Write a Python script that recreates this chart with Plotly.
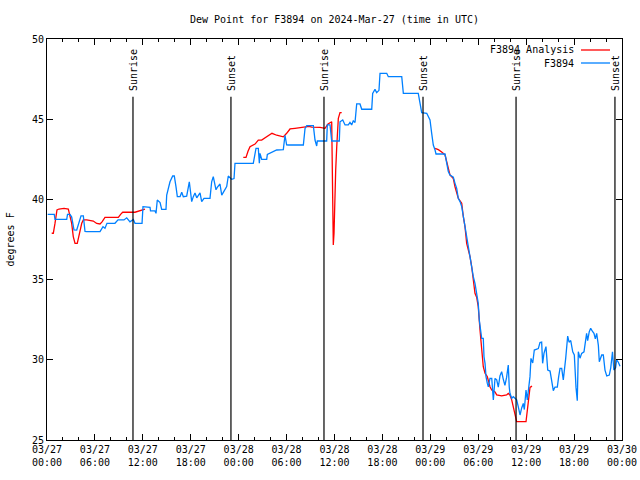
import pandas as pd
import plotly.graph_objects as go

# Hours since 2024-03-27 00:00 UTC, and dew point (deg F)
obs_hours = [0.09, 0.91, 1.0, 2.47, 2.57, 2.88, 3.09, 3.38, 3.72, 3.94, 4.26, 4.55, 4.76, 4.97, 5.76, 6.64,
             7.01, 7.26, 7.51, 8.51, 8.89, 9.64, 9.98, 10.39, 10.81, 11.02, 11.9, 12.02, 12.9, 12.96, 13.52,
             13.65, 13.81, 14.16, 14.36, 14.9, 14.99, 15.4, 15.74, 15.94, 16.15, 16.32, 16.66, 16.87, 17.07,
             17.49, 17.82, 18.12, 18.32, 18.53, 18.75, 19.16, 19.37, 19.66, 20.41, 20.62, 20.82, 21.16, 21.32,
             21.66, 21.88, 22.29, 22.5, 22.7, 23.13, 23.42, 23.54, 25.83, 26.04, 26.17, 26.46, 26.59, 26.67,
             26.88, 27.51, 27.59, 28.76, 29.59, 29.8, 30.01, 30.22, 32.1, 32.31, 32.52, 33.35, 33.56, 33.77,
             33.85, 35.02, 35.1, 35.44, 35.65, 36.6, 36.69, 37.03, 37.32, 37.73, 37.94, 38.15, 38.35, 38.57,
             38.78, 39.19, 39.41, 40.66, 40.78, 41.07, 41.28, 41.57, 41.7, 42.54, 42.74, 44.42, 44.62, 46.49,
             46.71, 46.92, 47.55, 47.96, 48.17, 48.37, 48.59, 48.71, 49.84, 49.96, 50.05, 50.25, 50.46, 50.88,
             51.09, 51.3, 51.5, 51.72, 51.93, 52.13, 52.34, 52.55, 52.75, 52.97, 53.18, 53.38, 53.59, 53.8,
             54.0, 54.13, 54.31, 54.43, 54.63, 54.72, 54.85, 54.97, 55.13, 55.26, 55.47, 55.69, 55.89, 56.1,
             56.31, 56.51, 56.72, 56.93, 57.13, 57.34, 57.55, 57.76, 57.88, 57.97, 58.19, 58.39, 58.6, 58.81,
             59.01, 59.23, 59.44, 59.64, 59.77, 59.98, 60.14, 60.35, 60.48, 60.6, 60.82, 61.02, 61.23, 61.52,
             61.73, 61.94, 62.06, 62.23, 62.48, 62.7, 62.99, 63.2, 63.4, 63.61, 63.9, 64.07, 64.24, 64.45,
             64.65, 64.95, 65.2, 65.37, 65.58, 65.83, 66.03, 66.24, 66.4, 66.53, 66.74, 66.95, 67.24, 67.57,
             67.7, 67.9, 68.08, 68.33, 68.49, 68.66, 68.83, 69.04, 69.16, 69.46, 69.66, 69.87, 70.09, 70.41,
             70.59, 70.81, 70.98, 71.2, 71.33, 71.54, 71.75]
obs_values = [39.07, 39.07, 38.76, 38.76, 39.07, 39.07, 38.9, 38.1, 38.09, 38.4, 38.97, 38.97, 38.0, 37.99, 37.97, 37.99,
              38.3, 38.2, 38.51, 38.51, 38.72, 38.72, 38.85, 38.6, 38.75, 38.51, 38.51, 39.55, 39.5, 39.28, 39.28,
              39.13, 39.96, 39.8, 39.38, 39.38, 40.27, 41.1, 41.46, 41.46, 40.8, 40.17, 40.17, 40.44, 40.17,
              40.2, 41.1, 39.86, 40.17, 40.4, 40.1, 40.4, 39.86, 40.07, 40.07, 41.1, 41.42, 40.6, 40.75,
              40.96, 40.27, 40.6, 40.8, 41.46, 41.25, 41.3, 42.25, 42.25, 42.87, 43.18, 43.18, 42.25, 42.87,
              42.5, 42.5, 42.8, 43.08, 43.1, 44.0, 43.4, 43.39, 43.39, 44.43, 44.6, 44.6, 43.7, 43.33,
              43.64, 43.64, 44.64, 44.64, 43.64, 43.64, 44.84, 44.95, 44.64, 44.64, 44.8, 44.64, 44.9, 44.8,
              45.95, 45.95, 45.62, 45.62, 46.61, 46.86, 46.65, 46.8, 47.86, 47.86, 47.65, 47.65, 46.61, 46.61,
              45.99, 45.41, 45.37, 44.95, 44.12, 43.39, 43.08, 42.83, 42.83, 42.5, 42.04, 41.73, 41.52, 41.38,
              41.0, 40.69, 40.07, 39.86, 39.55, 38.92, 38.3, 37.78, 37.05, 36.43, 35.8, 35.18, 34.77, 34.15,
              33.52, 32.48, 31.65, 31.34, 31.34, 30.19, 29.78, 28.95, 28.54, 28.32, 28.84, 28.84, 27.5, 28.84,
              28.75, 28.3, 29.0, 29.26, 28.8, 28.4, 28.9, 29.67, 28.3, 27.91, 27.6, 27.7, 27.6, 27.5,
              27.08, 26.56, 27.0, 27.28, 26.9, 28.12, 27.5, 28.32, 28.95, 30.09, 29.8, 30.61, 30.65, 30.7,
              31.07, 31.1, 29.78, 30.4, 30.82, 29.36, 29.3, 28.64, 28.08, 28.3, 28.3, 28.95, 29.47, 29.47,
              28.75, 30.09, 31.48, 31.1, 31.2, 30.5, 30.3, 28.28, 27.45, 30.5, 30.1, 30.4, 30.5, 31.65,
              31.2, 31.75, 31.96, 31.75, 31.65, 31.3, 31.65, 30.9, 29.88, 30.3, 30.3, 29.36, 29.0, 29.05,
              29.5, 30.5, 29.36, 29.5, 30.0, 29.85, 29.6]

# Analysis series (None = gap)
ana_hours = [0.59, 0.79, 1.0, 1.25, 1.5, 2.13, 2.67, 3.09, 3.29, 3.51, 3.79, 4.04, 4.35, 4.55, 4.97, 5.8, 6.22,
             6.64, 6.89, 7.26, 8.26, 8.93, 9.27, 9.48, 11.02, 11.65, 12.06, 12.27, 12.3,
             24.58, 24.92, 25.17, 25.42, 26.05, 26.46, 26.88, 27.55, 28.17, 28.76, 29.17, 29.59, 30.01, 30.43,
             31.05, 32.31, 32.81, 33.15, 34.19, 34.81, 35.19, 35.65, 35.75, 35.85, 35.94, 36.03, 36.15, 36.28,
             36.48, 36.69, 36.9, 37.0,
             48.59, 49.0, 49.42, 49.84, 50.05, 50.25, 50.46, 50.88, 51.09, 51.5, 51.93, 52.13, 52.34, 52.55,
             52.97, 53.18, 53.38, 53.59, 53.8, 54.0, 54.22, 54.35, 54.43, 54.63, 54.85, 55.13, 55.47, 55.69,
             56.1, 56.31, 56.93, 57.55, 57.76, 57.97, 58.19, 58.39, 58.6, 58.81, 59.98, 60.14, 60.27, 60.48,
             60.73]
ana_values = [37.89, 37.89, 38.5, 39.34, 39.4, 39.44, 39.4, 38.51, 37.68, 37.26, 37.26, 37.89, 38.51, 38.72, 38.72, 38.65, 38.5,
              38.47, 38.6, 38.88, 38.88, 38.88, 39.1, 39.2, 39.2, 39.28, 39.34, 39.4, None,
              42.62, 42.62, 43.0, 43.29, 43.45, 43.7, 43.7, 43.9, 44.12, 44.0, 43.97, 43.9, 44.12, 44.39,
              44.43, 44.53, 44.55, 44.5, 44.49, 44.43, 44.7, 44.84, 39.0, 37.16, 37.89, 40.79, 41.83, 43.29,
              45.06, 45.41, 45.41, None,
              43.18, 43.1, 42.95, 42.77, 42.35, 41.9, 41.52, 41.3, 40.79, 40.07, 39.76, 38.92, 38.3, 37.26,
              36.43, 35.8, 34.97, 34.15, 33.9, 33.31, 31.86, 31.23, 30.4, 29.57, 29.16, 28.95, 28.32, 28.12,
              28.0, 27.81, 27.75, 27.81, 27.9, 27.81, 27.5, 27.08, 26.45, 26.14, 26.14, 26.87, 27.5, 28.28,
              28.36]

sun_labels = ["Sunrise", "Sunset", "Sunrise", "Sunset", "Sunrise", "Sunset"]
sun_times = ["2024-03-27 10:46", "2024-03-27 23:02", "2024-03-28 10:41",
             "2024-03-28 23:05", "2024-03-29 10:44", "2024-03-29 23:07"]

tick_times = pd.date_range("2024-03-27 00:00", "2024-03-30 00:00", freq="6h")
tick_text = [t.strftime("%m/%d") + "<br>" + t.strftime("%H:%M") for t in tick_times]
y_ticks = [25, 30, 35, 40, 45, 50]

base = pd.Timestamp("2024-03-27 00:00")
obs_t = [base + pd.Timedelta(hours=h) for h in obs_hours]
ana_t = [base + pd.Timedelta(hours=h) for h in ana_hours]

FONT = "DejaVu Sans Mono"
RED = "#ff0000"
BLUE = "#0080ff"

fig = go.Figure()
fig.add_trace(go.Scatter(x=ana_t, y=ana_values, mode="lines", name="F3894 Analysis",
                         line=dict(color=RED, width=1.3), connectgaps=False))
fig.add_trace(go.Scatter(x=obs_t, y=obs_values, mode="lines", name="F3894",
                         line=dict(color=BLUE, width=1.3)))

for lab, t in zip(sun_labels, sun_times):
    fig.add_shape(type="line", xref="x", yref="y", x0=t, x1=t, y0=25, y1=46.4,
                  line=dict(color="black", width=1.2))
    fig.add_annotation(x=t, xref="x", y=46.63, yref="y", text=lab, textangle=-90,
                       showarrow=False, xanchor="center", yanchor="bottom",
                       font=dict(family=FONT, size=10, color="black"))

# legend drawn gnuplot style (text, then sample line)
legend_items = [("F3894 Analysis", RED), ("F3894", BLUE)]
for i, (name, col) in enumerate(legend_items):
    ypx = 50 + 13 * i
    yp = 1 - (ypx - 39) / 401
    fig.add_annotation(x=(576 - 47) / 575, xref="paper", y=yp, yref="paper", text=name,
                       showarrow=False, xanchor="right", yanchor="middle",
                       font=dict(family=FONT, size=10, color="black"))
    fig.add_shape(type="line", xref="paper", yref="paper",
                  x0=(581 - 47) / 575, x1=(610 - 47) / 575, y0=yp, y1=yp,
                  line=dict(color=col, width=1.3))

fig.add_annotation(x=0.5, xref="paper", y=1 + (39 - 20) / 401, yref="paper",
                   text="Dew Point for F3894 on 2024-Mar-27 (time in UTC)", showarrow=False,
                   xanchor="center", yanchor="middle", font=dict(family=FONT, size=10, color="black"))
fig.add_annotation(x=(10 - 47) / 575, xref="paper", y=0.5, yref="paper", text="degrees F",
                   textangle=-90, showarrow=False, xanchor="center", yanchor="middle",
                   font=dict(family=FONT, size=10, color="black"))

fig.update_layout(
    width=640, height=480,
    margin=dict(l=47, r=18, t=39, b=40, autoexpand=False),
    paper_bgcolor="white", plot_bgcolor="white",
    showlegend=False,
    font=dict(family=FONT, size=10, color="black"),
)
fig.update_xaxes(type="date", range=[tick_times[0], tick_times[-1]], automargin=False,
                 tickvals=list(tick_times), ticktext=tick_text,
                 showgrid=False, zeroline=False, showline=True, linecolor="black", linewidth=1,
                 mirror="ticks", ticks="inside", ticklen=6, tickcolor="black",
                 minor=dict(dtick=2 * 3600 * 1000, ticks="inside", ticklen=3, tickcolor="black", showgrid=False),
                 tickfont=dict(family=FONT, size=10))
fig.update_yaxes(range=[25, 50], tickvals=y_ticks, showgrid=False, zeroline=False, automargin=False,
                 showline=True, linecolor="black", linewidth=1, mirror="ticks",
                 ticks="inside", ticklen=6, tickcolor="black",
                 tickfont=dict(family=FONT, size=10))

fig.write_html("out.html", config={"displayModeBar": False},
               post_script="document.body.style.margin='0';")
